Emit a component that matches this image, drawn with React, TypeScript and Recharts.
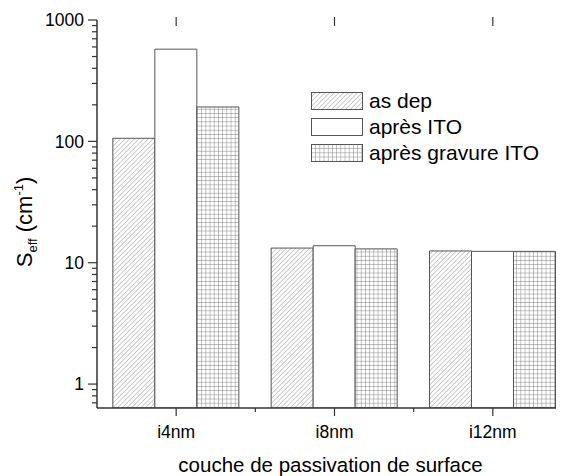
import { BarChart, Bar, XAxis, YAxis, Legend } from 'recharts';

const categories = ['i4nm', 'i8nm', 'i12nm'];
const asDep = [106, 13.2, 12.5];
const apresIto = [575, 13.8, 12.4];
const apresGravure = [192, 13.0, 12.4];
const seriesNames = ['as dep', 'après ITO', 'après gravure ITO'];

const majorTicks = [1, 10, 100, 1000];
const minorTicks = [
  0.7, 0.8, 0.9,
  2, 3, 4, 5, 6, 7, 8, 9,
  20, 30, 40, 50, 60, 70, 80, 90,
  200, 300, 400, 500, 600, 700, 800, 900,
];

const data = categories.map((category, i) => ({
  category,
  asDep: asDep[i],
  apresIto: apresIto[i],
  apresGravure: apresGravure[i],
}));

const FONT = '"Liberation Sans", Arial, sans-serif';
const AXIS = '#333';
const BAR_STROKE = '#555';

const CHART_W = 564;
const CHART_H = 468;
const MARGIN = { top: 12, right: 0, bottom: 8, left: 0 };
const Y_AXIS_W = 89;
const X_AXIS_H = 60;
const PLOT_H = CHART_H - MARGIN.top - MARGIN.bottom - X_AXIS_H;
const HALF_BAND = (CHART_W - Y_AXIS_W) / categories.length / 2;

const fills: Record<string, string> = {
  asDep: 'url(#hatch)',
  apresIto: '#fff',
  apresGravure: 'url(#grid)',
};

const YTick = (props: any) => {
  const { x, y, payload } = props;
  const major = majorTicks.includes(payload.value);
  return (
    <g>
      <line x1={x} x2={x - (major ? 9 : 5)} y1={y} y2={y} stroke={AXIS} strokeWidth={1.2} />
      {major && (
        <text x={x - 13} y={y} dy="0.36em" textAnchor="end" fontSize={17.5} fontFamily={FONT} fill="#000">
          {payload.value}
        </text>
      )}
    </g>
  );
};

// bottom tick + label, plus the mirrored tick hanging from the top frame line
const XTick = (props: any) => {
  const { x, y, payload } = props;
  const top = y - PLOT_H;
  return (
    <g>
      <line x1={x} x2={x} y1={y} y2={y + 8} stroke={AXIS} strokeWidth={1.2} />
      <line x1={x + HALF_BAND} x2={x + HALF_BAND} y1={y} y2={y + 4} stroke={AXIS} strokeWidth={1.2} />
      <line x1={x} x2={x} y1={top - 3} y2={top + 6} stroke={AXIS} strokeWidth={1.2} />
      <text x={x} y={y + 30} textAnchor="middle" fontSize={17.5} fontFamily={FONT} fill="#000">
        {payload.value}
      </text>
    </g>
  );
};

const LegendBox = (props: any) => {
  const entries = [...(props.payload || [])].sort(
    (a: any, b: any) => seriesNames.indexOf(a.value) - seriesNames.indexOf(b.value)
  );
  return (
    <div style={{ fontFamily: FONT, fontSize: 21, color: '#000' }}>
      {entries.map((entry: any) => (
        <div key={entry.dataKey} style={{ display: 'flex', alignItems: 'center', height: 26 }}>
          <svg width={53} height={19} style={{ display: 'block' }}>
            <rect x={0.5} y={0.5} width={51} height={17} fill={fills[entry.dataKey]} stroke={BAR_STROKE} />
          </svg>
          <span style={{ marginLeft: 5, whiteSpace: 'nowrap' }}>{entry.value}</span>
        </div>
      ))}
    </div>
  );
};

const YLabel = (props: any) => {
  const { viewBox } = props;
  const x = 24;
  const y = viewBox.y + viewBox.height / 2 + 8;
  return (
    <text x={x} y={y} transform={`rotate(-90 ${x} ${y})`} textAnchor="middle" fontSize={22} fontFamily={FONT} fill="#000">
      S
      <tspan fontSize={13} dy={5}>eff</tspan>
      <tspan dy={-5}> (cm</tspan>
      <tspan fontSize={13} dy={-9}>-1</tspan>
      <tspan dy={9}>)</tspan>
    </text>
  );
};

const XLabel = (props: any) => {
  const { viewBox } = props;
  return (
    <text x={viewBox.x + viewBox.width / 2 - 4} y={viewBox.y + 64} textAnchor="middle" fontSize={20.5} fontFamily={FONT} fill="#000">
      couche de passivation de surface
    </text>
  );
};

export default function App() {
  return (
    <div style={{ width: 556, height: CHART_H, overflow: 'hidden' }}>
      <BarChart
        width={CHART_W}
        height={CHART_H}
        data={data}
        margin={MARGIN}
        barCategoryGap="10%"
        barGap={0}
      >
        <defs>
          <pattern id="hatch" patternUnits="userSpaceOnUse" width={3.3} height={3.3} patternTransform="rotate(45)">
            <rect width={3.3} height={3.3} fill="#fff" />
            <line x1={0} y1={0} x2={0} y2={3.3} stroke="#9a9a9a" strokeWidth={1} />
          </pattern>
          <pattern id="grid" patternUnits="userSpaceOnUse" width={4.2} height={4.2}>
            <rect width={4.2} height={4.2} fill="#fff" />
            <path d="M0 0 H4.2 M0 0 V4.2" stroke="#666" strokeWidth={0.8} fill="none" />
          </pattern>
        </defs>
        <XAxis
          dataKey="category"
          height={X_AXIS_H}
          tickSize={0}
          tickMargin={0}
          tickLine={false}
          axisLine={{ stroke: AXIS, strokeWidth: 1.5 }}
          tick={<XTick />}
          interval={0}
          label={<XLabel />}
        />
        <XAxis
          xAxisId="top"
          dataKey="category"
          orientation="top"
          height={0}
          tick={false}
          tickLine={false}
          axisLine={{ stroke: AXIS, strokeWidth: 1.5 }}
        />
        <YAxis
          type="number"
          scale="log"
          domain={[0.635, 1000]}
          allowDataOverflow
          ticks={[...minorTicks, ...majorTicks].sort((a, b) => a - b)}
          interval={0}
          width={Y_AXIS_W}
          tickSize={0}
          tickMargin={0}
          tickLine={false}
          axisLine={{ stroke: AXIS, strokeWidth: 1.5 }}
          tick={<YTick />}
          label={<YLabel />}
        />
        <Legend
          layout="vertical"
          verticalAlign="middle"
          align="center"
          content={<LegendBox />}
          wrapperStyle={{ top: 80, left: 303, width: 'auto' }}
        />
        <Bar dataKey="asDep" name={seriesNames[0]} fill={fills.asDep} stroke={BAR_STROKE} strokeWidth={1} isAnimationActive={false} />
        <Bar dataKey="apresIto" name={seriesNames[1]} fill={fills.apresIto} stroke={BAR_STROKE} strokeWidth={1} isAnimationActive={false} />
        <Bar dataKey="apresGravure" name={seriesNames[2]} fill={fills.apresGravure} stroke={BAR_STROKE} strokeWidth={1} isAnimationActive={false} />
      </BarChart>
    </div>
  );
}
